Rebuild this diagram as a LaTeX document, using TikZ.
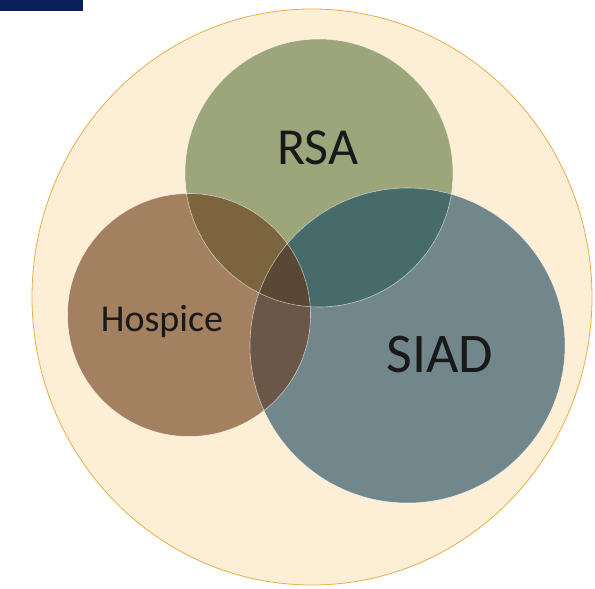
\documentclass[tikz,border=0pt]{standalone}
\usepackage{fontspec}
\setmainfont{Carlito}
\definecolor{navy}{HTML}{0B1F5C}
\definecolor{cream}{HTML}{FDEFD6}
\definecolor{gold}{HTML}{E9AE48}
\definecolor{rsac}{HTML}{9CA67A}
\definecolor{hospc}{HTML}{A38160}
\definecolor{siadc}{HTML}{72878C}
\definecolor{rhc}{HTML}{7C643E}
\definecolor{rsc}{HTML}{476A6B}
\definecolor{hsc}{HTML}{6A5748}
\definecolor{rhsc}{HTML}{584834}
\tikzset{
  edge/.style={draw=white, draw opacity=0.6, line width=0.6pt},
  lbl/.style={text=black!90, inner sep=0pt}
}
\begin{document}
\begin{tikzpicture}[x=1pt,y=-1pt]
\useasboundingbox (0,0) rectangle (595,589);
\fill[navy] (0,0) rectangle (83,11);
\filldraw[fill=cream, draw=gold, line width=0.8pt] (312,297) ellipse [x radius=280, y radius=288];
\def\rsa{(319,173) circle[radius=134]}
\def\hosp{(189,315) circle[radius=121.5]}
\def\siad{(407.5,345.5) circle[radius=157.5]}
\fill[rsac] \rsa;
\fill[hospc] \hosp;
\fill[siadc] \siad;
\begin{scope}
  \clip \rsa;
  \fill[rhc] \hosp;
  \fill[rsc] \siad;
\end{scope}
\begin{scope}
  \clip \hosp;
  \fill[hsc] \siad;
\end{scope}
\begin{scope}
  \clip \rsa;
  \clip \hosp;
  \fill[rhsc] \siad;
\end{scope}
\path[edge] \rsa;
\path[edge] \hosp;
\path[edge] \siad;
\node[lbl, font=\fontsize{52}{60}\selectfont] (rsa) at (318,148) {RSA};
\node[lbl, font=\fontsize{38}{44}\selectfont] (hospice) at (162,321) {Hospice};
\node[lbl, font=\fontsize{56}{64}\selectfont] (siad) at (440,355) {SIAD};
\end{tikzpicture}
\end{document}
